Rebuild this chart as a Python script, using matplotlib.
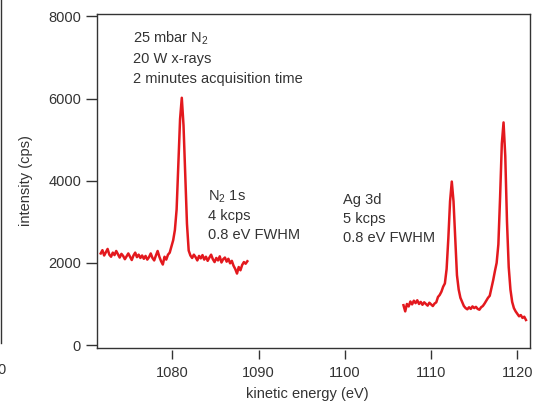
import numpy as np
import matplotlib.pyplot as plt
from matplotlib.lines import Line2D

plt.rcParams['font.family'] = ['Liberation Sans', 'DejaVu Sans']
plt.rcParams['mathtext.fontset'] = 'custom'
plt.rcParams['mathtext.rm'] = 'Liberation Sans'

# energy grid (eV) of each scan: first point and spacing
n2_start = 1071.7
ag_start = 1106.8
e_step = 0.2

# N2 1s region, counts per second
n2_counts = [2230, 2310, 2180, 2260, 2340, 2200, 2150, 2250, 2190, 2290,
             2210, 2130, 2220, 2170, 2090, 2160, 2230, 2150, 2070, 2180,
             2250, 2140, 2200, 2120, 2180, 2100, 2170, 2080, 2140, 2230,
             2120, 2060, 2180, 2290, 2150, 2040, 1960, 2150, 2080, 2200,
             2250, 2400, 2550, 2800, 3300, 4400, 5500, 6020, 5350, 4150,
             2950, 2300,
             2180, 2120, 2200, 2140, 2060, 2170, 2110, 2190, 2080, 2150,
             2050, 2130, 2200, 2090, 2020, 2120, 2060, 2160, 2010, 2090,
             2130, 2030, 2100, 1990, 2050, 1930, 1850, 1740, 1900, 1820,
             1950, 2020, 1980, 2040]

# Ag 3d region, counts per second
ag_counts = [970, 820, 1000, 940, 1060, 990, 1080, 1020, 1090, 1000,
             1050, 980, 1040, 1000, 960, 1030, 990, 950, 1010, 1040,
             1170, 1220, 1300, 1420, 1500, 1850, 2600, 3500, 3980, 3500,
             2600, 1700, 1350, 1150, 1050, 950, 900, 870, 920, 880,
             940, 900, 930, 880, 860, 920, 950, 1010, 1080, 1150,
             1200, 1390, 1580, 1800, 2000, 2450, 3600, 4900, 5420, 4600,
             3000, 1900, 1350, 1050, 900, 820, 760, 700, 730, 660,
             690, 610]

x_ticks = [1080, 1090, 1100, 1110, 1120]
y_ticks = [0, 2000, 4000, 6000, 8000]

info_lines = [r'25 mbar N$_\mathrm{2}$', '20 W x-rays', '2 minutes acquisition time']
n2_lines = [r'N$_\mathrm{2}$ 1s', '4 kcps', '0.8 eV FWHM']
ag_lines = ['Ag 3d', '5 kcps', '0.8 eV FWHM']

red = '#e3191e'
ink = '#333333'


def main():
    fig = plt.figure(figsize=(5.35, 4.03), dpi=100)
    ax = fig.add_axes([0.1813, 0.1377, 0.8094, 0.8276])

    n2_x = n2_start + e_step * np.arange(len(n2_counts))
    ag_x = ag_start + e_step * np.arange(len(ag_counts))
    ax.plot(n2_x, n2_counts, color=red, lw=1.8)
    ax.plot(ag_x, ag_counts, color=red, lw=1.8)

    ax.set_xlim(1071.27, 1121.47)
    ax.set_ylim(-60, 8060)
    ax.set_xticks(x_ticks)
    ax.set_yticks(y_ticks)

    for s in ax.spines.values():
        s.set_color(ink)
        s.set_linewidth(1.0)
    # x axis standing slightly off the frame
    ax.spines['bottom'].set_position(('outward', 2))
    ax.spines['bottom'].set_visible(False)
    ax.plot([0, 1], [0, 0], transform=ax.transAxes, color=ink, lw=1.0, clip_on=False)

    ax.tick_params(axis='y', direction='out', length=8, width=1.0, pad=3.5,
                   color=ink, labelcolor=ink, labelsize=10.5)
    ax.tick_params(axis='x', direction='out', length=6.5, width=1.0, pad=5,
                   color=ink, labelcolor=ink, labelsize=10.5)

    ax.set_xlabel('kinetic energy (eV)', fontsize=10.5, color=ink)
    ax.set_ylabel('intensity (cps)', fontsize=10.5, color=ink)
    ax.xaxis.set_label_coords(0.485, -0.117)
    ax.yaxis.set_label_coords(-0.148, 0.5)

    for i, t in enumerate(info_lines):
        ax.text(1075.45, 7370 - i * 495, t, fontsize=10.5, color=ink, va='baseline')
    for i, t in enumerate(n2_lines):
        ax.text(1084.15, 3520 - i * 470, t, fontsize=10.5, color=ink, va='baseline')
    for i, t in enumerate(ag_lines):
        ax.text(1099.8, 3430 - i * 455, t, fontsize=10.5, color=ink, va='baseline')

    # edge of the neighbouring panel, cut off at the left
    fig.add_artist(Line2D([1.5 / 535, 1.5 / 535], [1 - 343 / 403, 1.0],
                          transform=fig.transFigure, color=ink, lw=1.0))
    fig.text(1 / 535, 1 - 370 / 403, '0', fontsize=10.5, color=ink,
             ha='center', va='center')

    fig.savefig('out.png', dpi=100)


if __name__ == '__main__':
    main()
